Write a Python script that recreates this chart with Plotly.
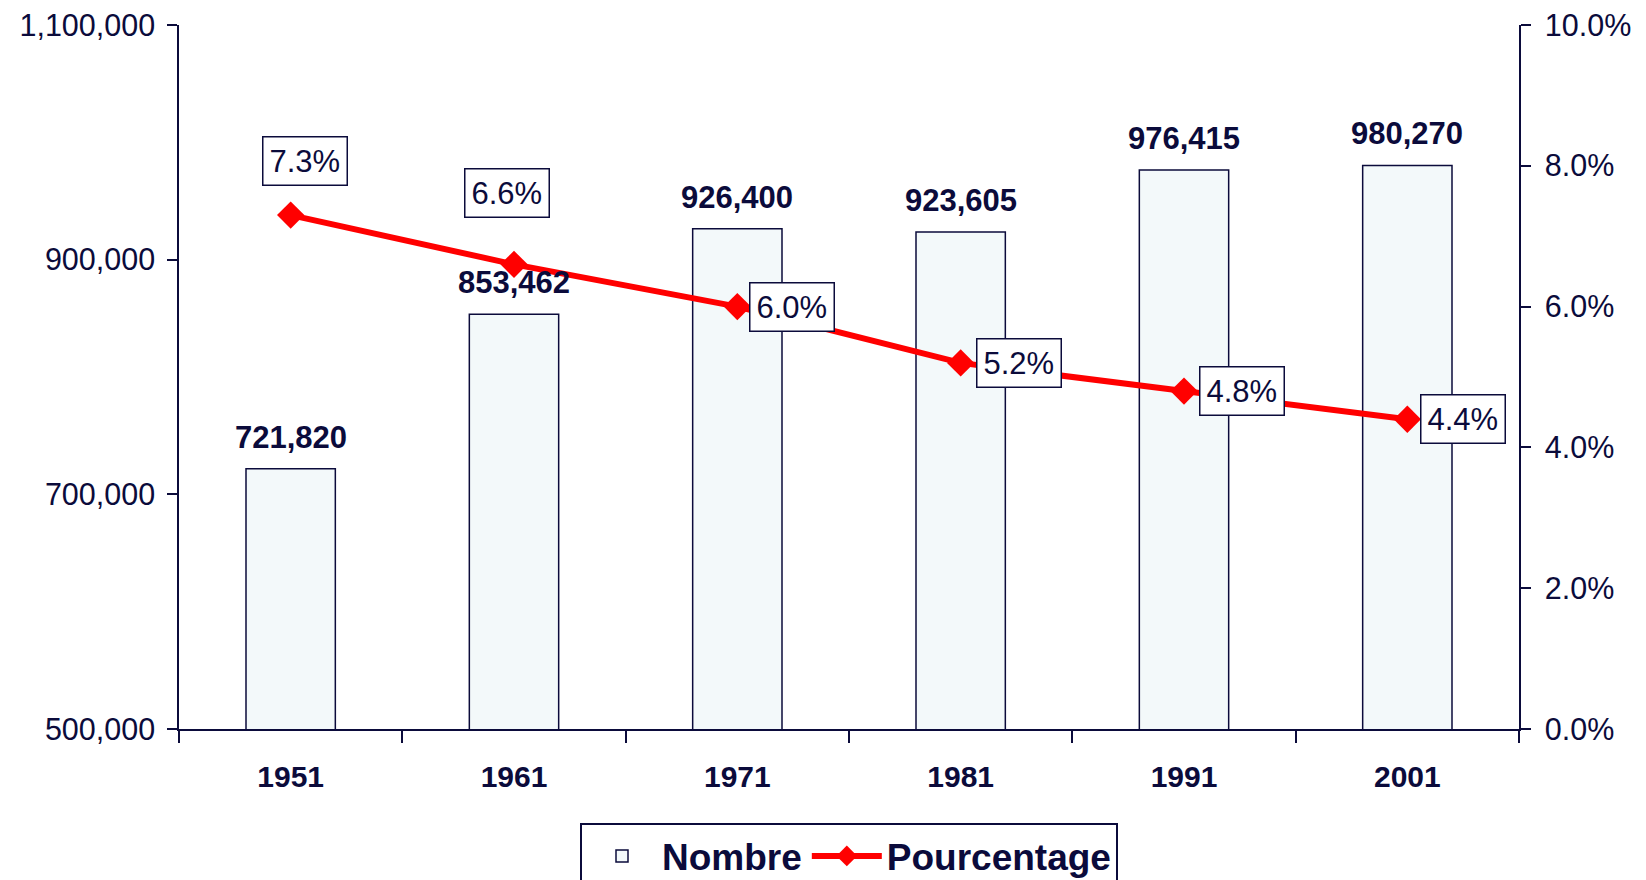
import plotly.graph_objects as go

years = ["1951", "1961", "1971", "1981", "1991", "2001"]
nombre = [721820, 853462, 926400, 923605, 976415, 980270]
pourcentage = [0.073, 0.066, 0.060, 0.052, 0.048, 0.044]
nombre_labels = ["721,820", "853,462", "926,400", "923,605", "976,415", "980,270"]
pct_labels = ["7.3%", "6.6%", "6.0%", "5.2%", "4.8%", "4.4%"]

NAVY = "#0b0b3b"
FONT = "Liberation Sans, Arial, sans-serif"

fig = go.Figure()
fig.add_trace(go.Bar(
    x=years, y=nombre, name="Nombre",
    marker=dict(color="#F3F9FA", line=dict(color=NAVY, width=1.5)),
))
fig.add_trace(go.Scatter(
    x=years, y=pourcentage, name="Pourcentage", yaxis="y2",
    mode="lines+markers",
    line=dict(color="#FF0000", width=6),
    marker=dict(symbol="diamond", size=21, color="#FF0000"),
))

# label placement styles (Excel-like manual positions)
pct_style = [
    dict(xanchor="center", yanchor="bottom", xshift=14, yshift=29),
    dict(xanchor="center", yanchor="bottom", xshift=-7, yshift=46),
    dict(xanchor="left", yanchor="middle", xshift=12, yshift=0),
    dict(xanchor="left", yanchor="middle", xshift=15, yshift=0),
    dict(xanchor="left", yanchor="middle", xshift=15, yshift=0),
    dict(xanchor="left", yanchor="middle", xshift=13, yshift=0),
]

annotations = []
for i, (v, lab) in enumerate(zip(nombre, nombre_labels)):
    annotations.append(dict(
        x=i, y=v, xref="x", yref="y", text="<b>%s</b>" % lab,
        showarrow=False, yanchor="bottom", yshift=12,
        font=dict(size=31, color=NAVY, family=FONT),
    ))
for i, (v, lab) in enumerate(zip(pourcentage, pct_labels)):
    annotations.append(dict(
        x=i, y=v, xref="x", yref="y2", text=lab, showarrow=False,
        bgcolor="white", bordercolor=NAVY, borderwidth=1.5, borderpad=6,
        font=dict(size=31, color=NAVY, family=FONT), **pct_style[i],
    ))

fig.update_layout(
    width=1646, height=880,
    margin=dict(l=179, r=127, t=25, b=151, autoexpand=False),
    plot_bgcolor="white", paper_bgcolor="white",
    font=dict(family=FONT, color=NAVY, size=30),
    bargap=0.6,
    showlegend=True,
    legend=dict(
        orientation="h", x=0.5, xanchor="center", y=-0.134, yanchor="top",
        bordercolor=NAVY, borderwidth=2, itemwidth=70,
        font=dict(size=37, color=NAVY, family=FONT, weight="bold"),
    ),
    xaxis=dict(
        type="category", range=[-0.5, 5.5], showline=True, linecolor=NAVY, linewidth=1.5,
        ticks="outside", tickson="boundaries", ticklen=12, tickcolor=NAVY, tickwidth=1.5,
        tickfont=dict(size=30, color=NAVY, family=FONT, weight="bold"),
        ticklabelstandoff=20, showgrid=False, tickangle=0,
    ),
    yaxis=dict(
        range=[500000, 1100000], tick0=500000, dtick=200000, tickformat=",",
        showline=True, linecolor=NAVY, linewidth=1.5,
        ticks="outside", ticklen=10, tickcolor=NAVY, tickwidth=1.5,
        tickfont=dict(size=30.5, color=NAVY, family=FONT),
        showgrid=False, zeroline=False, ticklabelstandoff=6,
    ),
    yaxis2=dict(
        range=[0, 0.10], tick0=0, dtick=0.02, tickformat=".1%", overlaying="y", side="right",
        showline=True, linecolor=NAVY, linewidth=1.5,
        ticks="outside", ticklen=10, tickcolor=NAVY, tickwidth=1.5,
        tickfont=dict(size=30.5, color=NAVY, family=FONT),
        showgrid=False, zeroline=False, ticklabelstandoff=8,
    ),
    annotations=annotations,
)

fig.write_html("out.html", config={"displayModeBar": False},
               post_script="document.body.style.margin='0px';")
